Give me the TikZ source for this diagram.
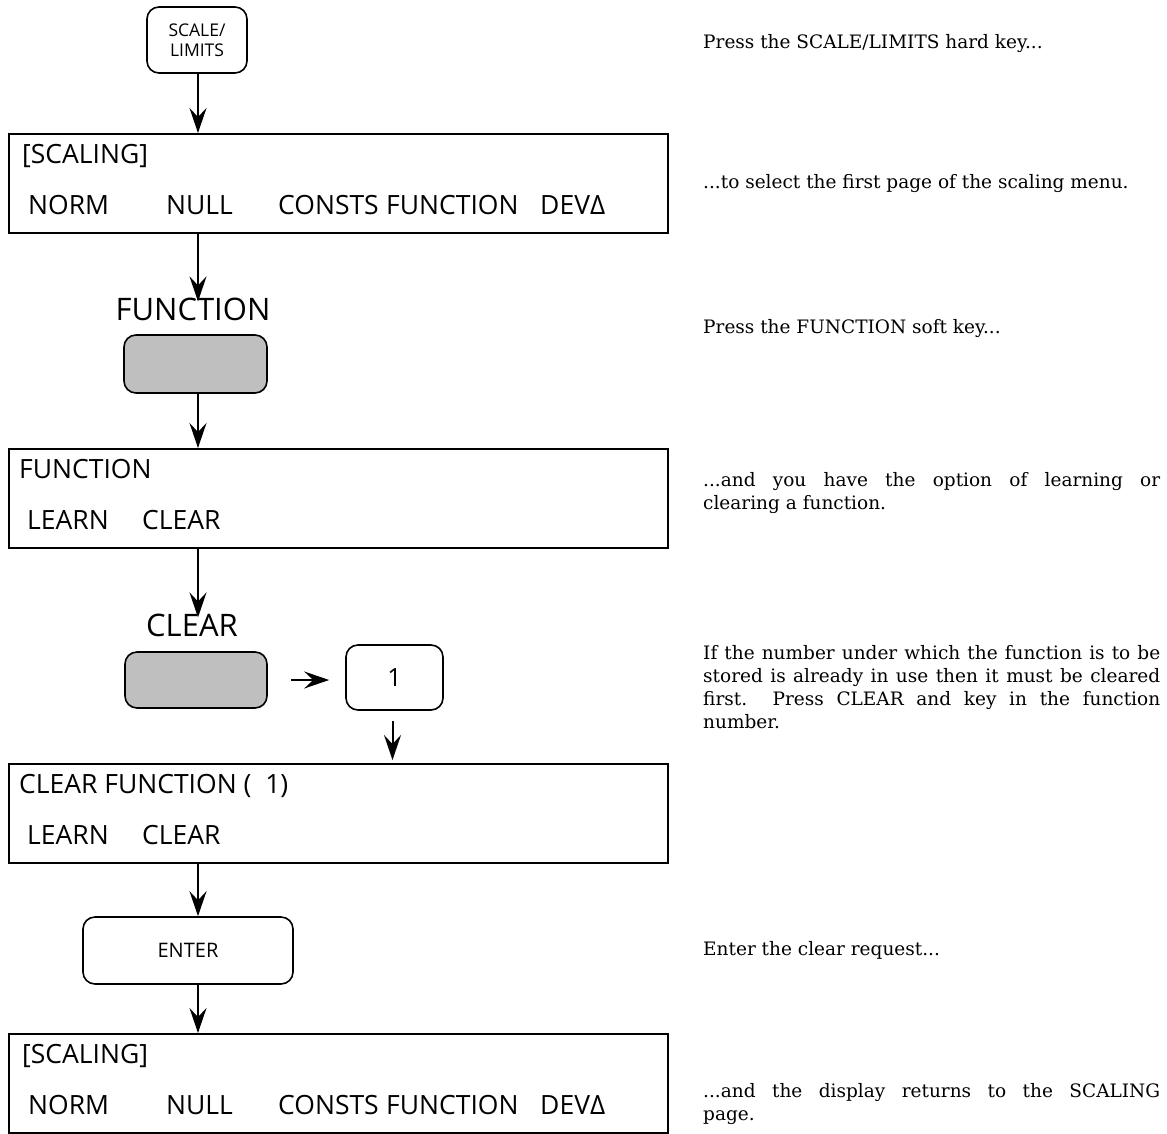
\documentclass[tikz,border=0pt]{standalone}
\usepackage{fontspec}
\usetikzlibrary{arrows.meta}
\newfontfamily\dispfont{Open Sans}
\newfontfamily\descfont{DejaVu Serif}
\begin{document}
\begin{tikzpicture}[x=1pt,y=-1pt,
  dispbox/.style={draw,line width=1.6pt,minimum width=659pt,minimum height=99pt,anchor=north west,inner sep=0pt},
  boxtxt/.style={anchor=base west,inner sep=0pt,font=\dispfont\fontsize{26.5}{26.5}\selectfont},
  keybox/.style={draw,line width=1.6pt,rounded corners=12pt,inner sep=0pt},
  softkey/.style={keybox,fill=black!25},
  keylabel/.style={inner sep=0pt,font=\dispfont\fontsize{31}{31}\selectfont},
  desc/.style={anchor=base west,inner sep=0pt,font=\descfont\fontsize{18.5}{23}\selectfont},
  arr/.style={line width=2pt,-{Stealth[length=25pt,width=17pt,inset=9pt]}},
]
\useasboundingbox (0,0) rectangle (1167,1133);
\coordinate (ax) at (198,0);

% keys
\node[keybox,minimum width=100pt,minimum height=66pt,align=center,font=\dispfont\fontsize{17.5}{20}\selectfont] (k1) at (197,40) {SCALE/\\LIMITS};
\node[keylabel] (l1) at (193,309) {FUNCTION};
\node[softkey,minimum width=143pt,minimum height=58pt] (k2) at (195.5,364) {};
\node[keylabel] (l2) at (192,625) {CLEAR};
\node[softkey,minimum width=142pt,minimum height=56pt] (k3) at (196,680) {};
\node[keybox,minimum width=97pt,minimum height=65pt,font=\dispfont\fontsize{25}{25}\selectfont] (k4) at (394.5,677.5) {1};
\node[keybox,minimum width=210pt,minimum height=67pt,font=\dispfont\fontsize{20}{20}\selectfont] (k5) at (188,950.5) {ENTER};

% display boxes
\node[dispbox] (b1) at (8,133) {};
\node[boxtxt] (b1a) at (22,163) {[SCALING]};
\node[boxtxt] (b1b) at (28,214) {NORM};
\node[boxtxt] (b1c) at (166,214) {NULL};
\node[boxtxt] (b1d) at (278,214) {CONSTS};
\node[boxtxt] (b1e) at (386,214) {FUNCTION};
\node[boxtxt] (b1f) at (540,214) {DEVΔ};

\node[dispbox] (b2) at (8,448) {};
\node[boxtxt] (b2a) at (19,478) {FUNCTION};
\node[boxtxt] (b2b) at (27,529) {LEARN};
\node[boxtxt] (b2c) at (142,529) {CLEAR};

\node[dispbox] (b3) at (8,763) {};
\node[boxtxt] (b3a) at (19,793) {CLEAR FUNCTION (\ \ 1)};
\node[boxtxt] (b3b) at (27,844) {LEARN};
\node[boxtxt] (b3c) at (142,844) {CLEAR};

\node[dispbox] (b4) at (8,1033) {};
\node[boxtxt] (b4a) at (22,1063) {[SCALING]};
\node[boxtxt] (b4b) at (28,1114) {NORM};
\node[boxtxt] (b4c) at (166,1114) {NULL};
\node[boxtxt] (b4d) at (278,1114) {CONSTS};
\node[boxtxt] (b4e) at (386,1114) {FUNCTION};
\node[boxtxt] (b4f) at (540,1114) {DEVΔ};

% arrows
\draw[arr] (ax |- k1.south) -- (ax |- b1.north);
\draw[arr] (ax |- b1.south) -- ([yshift=-4pt]ax |- l1.north);
\draw[arr] (ax |- k2.south) -- (ax |- b2.north);
\draw[arr] (ax |- b2.south) -- ([yshift=-4pt]ax |- l2.north);
\draw[arr,shorten <=23pt,shorten >=16pt] (k3.east) -- (k3.east -| k4.west);
\draw[arr,shorten <=10pt,shorten >=3pt] ([xshift=-2pt]k4.south) -- ([xshift=-2pt]k4.south |- b3.north);
\draw[arr] (ax |- b3.south) -- (ax |- k5.north);
\draw[arr] (ax |- k5.south) -- (ax |- b4.north);

% descriptions
\node[desc] (t1) at (703,48) {Press the SCALE/LIMITS hard key...};
\node[desc] (t2) at (703,188) {...to select the first page of the scaling menu.};
\node[desc] (t3) at (703,333) {Press the FUNCTION soft key...};
\node[desc] (t4a) at (703,486) {\makebox[457pt][s]{...and you have the option of learning or}};
\node[desc] (t4b) at (703,509) {clearing a function.};
\node[desc] (t5a) at (703,659) {\makebox[457pt][s]{If the number under which the function is to be}};
\node[desc] (t5b) at (703,682) {\makebox[457pt][s]{stored is already in use then it must be cleared}};
\node[desc] (t5c) at (703,705) {\makebox[457pt][s]{first.\ \ Press CLEAR and key in the function}};
\node[desc] (t5d) at (703,728) {number.};
\node[desc] (t6) at (703,955) {Enter the clear request...};
\node[desc] (t7a) at (703,1097) {\makebox[457pt][s]{...and the display returns to the SCALING}};
\node[desc] (t7b) at (703,1120) {page.};
\end{tikzpicture}
\end{document}
